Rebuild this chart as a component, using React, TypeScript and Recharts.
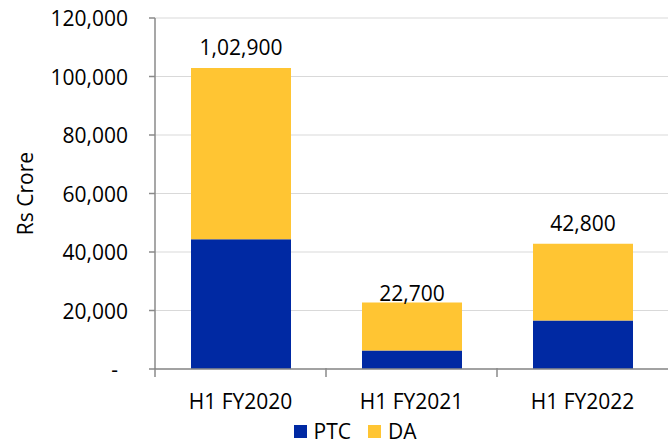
import React from 'react';
import { BarChart, Bar, XAxis, YAxis, CartesianGrid, Legend, LabelList } from 'recharts';

const categories = ['H1 FY2020', 'H1 FY2021', 'H1 FY2022'];
const ptcValues = [44400, 6300, 16600];
const daValues = [58500, 16400, 26200];
const totalValues = [102900, 22700, 42800];
const yTicks = [0, 20000, 40000, 60000, 80000, 100000, 120000];

const seriesNames = { ptc: 'PTC', da: 'DA' };
const colors = { ptc: '#0029a3', da: '#ffc533' };

const data = categories.map((c, i) => ({
  category: c,
  ptc: ptcValues[i],
  da: daValues[i],
  total: totalValues[i],
}));

const FONT = '"Open Sans", sans-serif';
const FONT_SIZE = 21;
const AXIS_COLOR = '#8a8a8a';
const CHART_W = 668;
const CHART_H = 444;
const Y_AXIS_W = 155;
const MARGIN = { top: 18, right: 0, left: 0, bottom: 0 };
const BAND = (CHART_W - Y_AXIS_W - MARGIN.right) / categories.length;
const LABEL_GAP = [21, 10, 21];

function formatIndian(n: number): string {
  const s = String(Math.round(n));
  if (s.length <= 3) return s;
  const last3 = s.slice(-3);
  let rest = s.slice(0, -3);
  const parts: string[] = [];
  while (rest.length > 2) {
    parts.unshift(rest.slice(-2));
    rest = rest.slice(0, -2);
  }
  if (rest.length) parts.unshift(rest);
  return parts.join(',') + ',' + last3;
}

function formatWestern(n: number): string {
  return String(n).replace(/\B(?=(\d{3})+(?!\d))/g, ',');
}

const YTick = (props: any) => {
  const { x, y, payload } = props;
  const v = payload.value as number;
  const isZero = v === 0;
  return (
    <text
      x={x + (isZero ? -10 : 0)}
      y={y}
      textAnchor="end"
      dominantBaseline="central"
      fontFamily={FONT}
      fontSize={FONT_SIZE}
      fill="#000"
    >
      {isZero ? '-' : formatWestern(v)}
    </text>
  );
};

const XTick = (props: any) => {
  const { x, y, payload } = props;
  const axisY = y - 8;
  return (
    <g>
      <line x1={x - BAND / 2} x2={x - BAND / 2} y1={axisY - 1} y2={axisY + 8} stroke={AXIS_COLOR} strokeWidth={1.5} />
      <text
        x={x}
        y={axisY + 32}
        textAnchor="middle"
        dominantBaseline="central"
        fontFamily={FONT}
        fontSize={FONT_SIZE}
        fill="#000"
      >
        {payload.value}
      </text>
    </g>
  );
};

const TotalLabel = (props: any) => {
  const { x, y, width, value, index } = props;
  return (
    <text
      x={x + width / 2}
      y={y - LABEL_GAP[index]}
      textAnchor="middle"
      dominantBaseline="central"
      fontFamily={FONT}
      fontSize={FONT_SIZE}
      fill="#000"
    >
      {formatIndian(value)}
    </text>
  );
};

const LegendContent = () => (
  <div
    style={{
      display: 'flex',
      justifyContent: 'center',
      alignItems: 'center',
      paddingLeft: 42,
      fontFamily: FONT,
      fontSize: FONT_SIZE,
      color: '#000',
      lineHeight: '26px',
    }}
  >
    {(['ptc', 'da'] as const).map((k, i) => (
      <div key={k} style={{ display: 'flex', alignItems: 'center', marginLeft: i === 0 ? 0 : 17 }}>
        <span style={{ display: 'inline-block', width: 13, height: 13, background: colors[k], marginRight: 7 }} />
        <span>{seriesNames[k]}</span>
      </div>
    ))}
  </div>
);

const YLabel = (props: any) => {
  const { viewBox } = props;
  const cx = 25;
  const cy = viewBox.y + viewBox.height / 2;
  return (
    <text
      x={cx}
      y={cy}
      transform={`rotate(-90 ${cx} ${cy})`}
      textAnchor="middle"
      dominantBaseline="central"
      fontFamily={FONT}
      fontSize={FONT_SIZE}
      fill="#000"
    >
      Rs Crore
    </text>
  );
};

export default function App() {
  return (
    <div style={{ position: 'absolute', left: 0, top: 0, background: '#fff' }}>
      <BarChart width={CHART_W} height={CHART_H} data={data} margin={MARGIN} barSize={100}>
        <CartesianGrid horizontal vertical={false} stroke="#d9d9d9" strokeWidth={1} />
        <XAxis
          dataKey="category"
          height={49}
          tickLine={false}
          axisLine={{ stroke: AXIS_COLOR, strokeWidth: 1.5 }}
          tick={<XTick />}
          interval={0}
        />
        <YAxis
          width={Y_AXIS_W}
          domain={[0, 120000]}
          ticks={yTicks}
          interval={0}
          tickSize={6}
          tickMargin={21}
          tickLine={{ stroke: AXIS_COLOR, strokeWidth: 1.5 }}
          axisLine={{ stroke: AXIS_COLOR, strokeWidth: 1.5 }}
          tick={<YTick />}
          label={<YLabel />}
        />
        <Legend verticalAlign="bottom" height={26} content={<LegendContent />} />
        <Bar dataKey="ptc" name={seriesNames.ptc} stackId="a" fill={colors.ptc} isAnimationActive={false} />
        <Bar dataKey="da" name={seriesNames.da} stackId="a" fill={colors.da} isAnimationActive={false}>
          <LabelList dataKey="total" content={<TotalLabel />} />
        </Bar>
      </BarChart>
    </div>
  );
}
